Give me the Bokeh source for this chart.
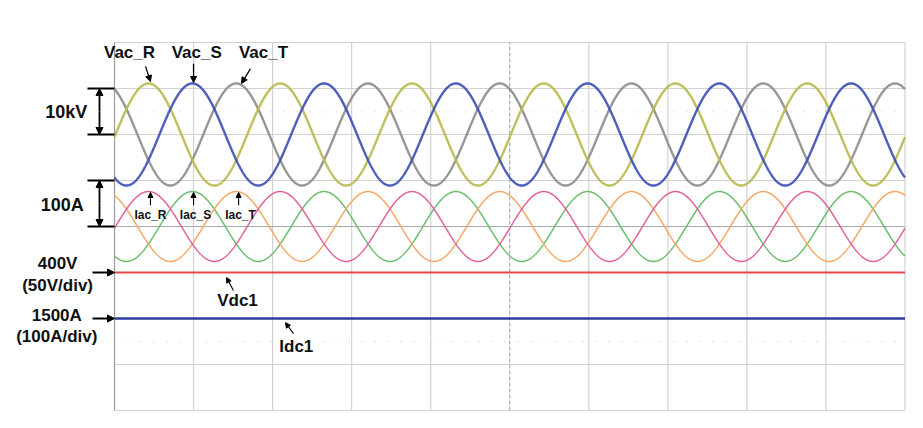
import numpy as np
from bokeh.plotting import figure
from bokeh.models import Label, Arrow, NormalHead
from bokeh.embed import file_html
from bokeh.resources import INLINE

# ---- data ----
TIME_MS = (0.0, 100.0)          # 10 ms/div, 10 divisions
DIVS_Y = (0.0, 8.0)
LINE_FREQ_HZ = 60.0
grid_x_ticks = [0, 10, 20, 30, 40, 50, 60, 70, 80, 90, 100]
grid_y_ticks = [0, 1, 2, 3, 4, 5, 6, 7, 8]
vac_names = ["Vac_R", "Vac_S", "Vac_T"]
iac_names = ["Iac_R", "Iac_S", "Iac_T"]
vac_peak_time_ms = [4.3, 9.85, 15.4]   # first positive peak of each phase
vac_amplitude_kv = 11.1                # peak value
vac_scale_kv_per_div = 10.0
vac_offset_div = 6.0
iac_peak_time_ms = [4.3, 9.85, 15.4]
iac_amplitude_a = 76.0
iac_scale_a_per_div = 100.0
iac_offset_div = 4.0
vdc_value_v = 400.0
vdc_scale_v_per_div = 50.0
vdc_offset_div = 3.0
idc_value_a = 1500.0
idc_scale_a_per_div = 100.0
idc_offset_div = 2.0

vac_colors = ["#b9b84c", "#3b4cb4", "#8c8c8c"]
iac_colors = ["#e2629c", "#6cbd6c", "#f4a866"]
vdc_color = "#e64848"
idc_color = "#2e3da0"
FONT = "Liberation Sans"

W, H = 920, 425
PX_PER_MS = 7.905
PX_PER_DIV = 46.0
X0_PX, Y0_PX = 114.0, 410.0
x_rng = ((0 - X0_PX) / PX_PER_MS, (W - X0_PX) / PX_PER_MS)
y_rng = ((Y0_PX - H) / PX_PER_DIV, (Y0_PX - 0) / PX_PER_DIV)

p = figure(width=W, height=H, output_backend="svg", toolbar_location=None,
           x_range=x_rng, y_range=y_rng, min_border=0)
p.axis.visible = False
p.grid.visible = False
p.outline_line_color = None
p.background_fill_color = "white"
p.border_fill_color = "white"

# graticule
gx = [x for x in grid_x_ticks if x not in (0, 50)]
p.segment(x0=gx, y0=[DIVS_Y[0]] * len(gx), x1=gx, y1=[DIVS_Y[1]] * len(gx),
          line_color="#d2d2d2", line_width=1.2)
gy = [y for y in grid_y_ticks if y != 4]
p.segment(x0=[TIME_MS[0]] * len(gy), y0=gy, x1=[TIME_MS[1]] * len(gy), y1=gy,
          line_color="#d2d2d2", line_width=1.2)
p.segment(x0=[TIME_MS[0]], y0=[4], x1=[TIME_MS[1]], y1=[4],
          line_color="#a8a8a8", line_width=1)
p.segment(x0=[50], y0=[DIVS_Y[0]], x1=[50], y1=[DIVS_Y[1]],
          line_color="#9a9a9a", line_width=1, line_dash="4 2")
for yl in (6.5, 1.5):
    p.segment(x0=[TIME_MS[0]], y0=[yl], x1=[TIME_MS[1]], y1=[yl],
              line_color="#dedede", line_width=2, line_dash="1 12")
p.segment(x0=[TIME_MS[0]], y0=[DIVS_Y[0]], x1=[TIME_MS[0]], y1=[DIVS_Y[1]],
          line_color="#9c9c9c", line_width=1.2)

t = np.linspace(TIME_MS[0], TIME_MS[1], 3000)
period = 1000.0 / LINE_FREQ_HZ

for i in [2, 0, 1]:
    y = vac_offset_div + vac_amplitude_kv / vac_scale_kv_per_div * np.cos(
        2 * np.pi * (t - vac_peak_time_ms[i]) / period)
    p.line(t, y, line_color=vac_colors[i], line_width=2.4, line_alpha=0.9)
for i in [1, 2, 0]:
    y = iac_offset_div + iac_amplitude_a / iac_scale_a_per_div * np.cos(
        2 * np.pi * (t - iac_peak_time_ms[i]) / period)
    p.line(t, y, line_color=iac_colors[i], line_width=1.5)

p.line([TIME_MS[0], TIME_MS[1]],
       [vdc_offset_div + (vdc_value_v - 400.0) / vdc_scale_v_per_div] * 2,
       line_color=vdc_color, line_width=2)
p.line([TIME_MS[0], TIME_MS[1]],
       [idc_offset_div + (idc_value_a - 1500.0) / idc_scale_a_per_div] * 2,
       line_color=idc_color, line_width=2.4)


def lab(x, y, text, size=16):
    p.add_layout(Label(x=x, y=y, text=text, text_font=FONT, text_font_style="bold",
                       text_font_size=f"{size}px", text_align="center",
                       text_baseline="middle", text_color="#111111"))


def arr(x0, y0, x1, y1, size=6, width=1.3):
    p.add_layout(Arrow(x_start=x0, y_start=y0, x_end=x1, y_end=y1, line_width=width,
                       line_color="black",
                       end=NormalHead(size=size, fill_color="black", line_color="black")))


def bar(x0, x1, yy):
    p.add_layout(Arrow(x_start=x0, y_start=yy, x_end=x1, y_end=yy, end=None,
                       line_width=2, line_color="black"))


# waveform names
for name, x in zip(vac_names, [1.9, 10.4, 18.85]):
    lab(x, 7.78, name, 17)
arr(3.92, 7.48, 4.55, 7.15)
arr(10.0, 7.54, 10.0, 7.13)
arr(17.2, 7.43, 16.07, 7.11)

for name, x in zip(iac_names, [4.55, 10.25, 15.94]):
    lab(x, 4.26, name, 12)
for x in [4.55, 10.0, 15.7]:
    arr(x, 4.46, x, 4.74, size=5, width=1.1)

lab(15.56, 2.39, "Vdc1", 17)
arr(15.05, 2.61, 14.17, 2.89, size=5, width=1.1)
lab(23.0, 1.39, "Idc1", 17)
arr(22.64, 1.67, 21.63, 1.91, size=5, width=1.1)

# left scale markers
lab(-6.1, 6.48, "10kV", 18)
bar(-3.42, 0, 7.0)
bar(-3.42, 0, 6.0)
arr(-1.9, 6.5, -1.9, 7.0, size=7, width=1.8)
arr(-1.9, 6.5, -1.9, 6.0, size=7, width=1.8)

lab(-6.6, 4.46, "100A", 18)
bar(-3.42, 0, 5.0)
bar(-3.42, 0, 4.0)
arr(-1.9, 4.5, -1.9, 5.0, size=7, width=1.8)
arr(-1.9, 4.5, -1.9, 4.0, size=7, width=1.8)

lab(-7.2, 3.2, "400V", 17)
lab(-7.2, 2.72, "(50V/div)", 17)
arr(-2.78, 3.0, 0, 3.0, size=7, width=2)
lab(-7.3, 2.07, "1500A", 17)
lab(-7.3, 1.61, "(100A/div)", 17)
arr(-2.78, 2.0, 0, 2.0, size=7, width=2)

open("out.html", "w").write(file_html(p, INLINE))
